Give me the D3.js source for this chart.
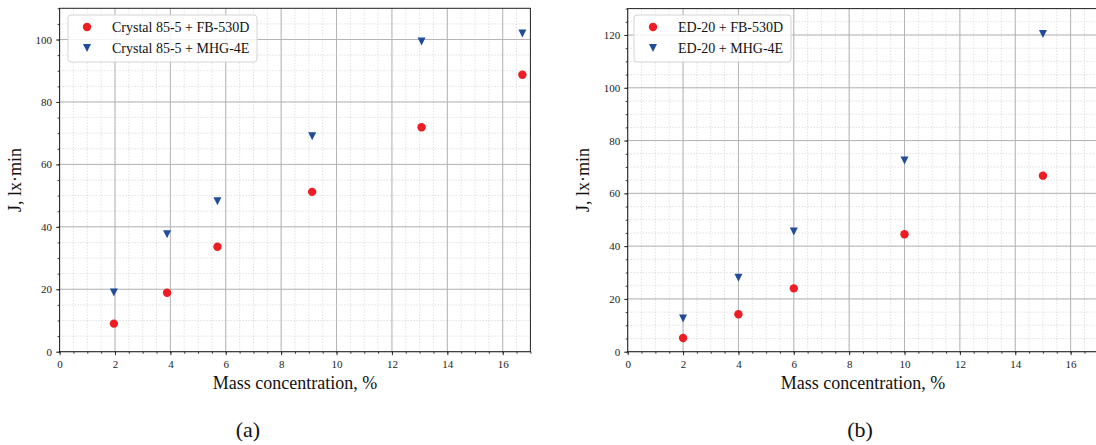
<!DOCTYPE html>
<html lang="en">
    <head>
        <meta charset="utf-8">
        <title>Mass concentration vs J</title>
        <script type="text/javascript" src="https://d3js.org/d3.v7.min.js"></script>
        <style>
            body { margin: 0; background: #fff; }
            svg { display: block; }
            svg text { font-family: "Liberation Serif", "Times New Roman", serif; }
        </style>
    </head>
    <body>
        <script>
            // panel (a)
            const seriesA = ["Crystal 85-5 + FB-530D", "Crystal 85-5 + MHG-4E"];
            const concA = [1.96, 3.88, 5.70, 9.12, 13.07, 16.71];
            const fbA = [9.0, 18.9, 33.6, 51.2, 71.9, 88.7];
            const mhgA = [19.0, 37.6, 48.2, 69.0, 99.4, 101.9];

            // panel (b)
            const seriesB = ["ED-20 + FB-530D", "ED-20 + MHG-4E"];
            const concB = [2, 4, 6, 10, 15];
            const fbB = [5.2, 14.2, 24.0, 44.5, 66.7];
            const mhgB = [12.6, 28.0, 45.5, 72.4, 120.4];

            const xTicks = [0, 2, 4, 6, 8, 10, 12, 14, 16];
            const yTicksA = [0, 20, 40, 60, 80, 100];
            const yTicksB = [0, 20, 40, 60, 80, 100, 120];

            const w = 1096;
            const h = 445;
            const red = "#ee1d23";
            const blue = "#224b9c";
            const serif = "'Liberation Serif', 'Times New Roman', serif";

            const svg = d3.select("body")
                        .append("svg")
                        .attr("width", w)
                        .attr("height", h);

            function tri(s) {
                return "M" + (-s) + "," + (-s) + "L" + s + "," + (-s) + "L0," + s + "Z";
            }

            function drawPanel(opt) {
                const xScale = d3.scaleLinear().domain([0, 17]).range([opt.x0, opt.x1]);
                const yScale = d3.scaleLinear().domain([0, opt.ymax]).range([351.7, opt.ytop]);
                const g = svg.append("g");

                const xMinor = d3.range(0, 17.01, 0.5);
                const yMinor = d3.range(0, opt.ymax + 0.01, 5);

                // minor grid, dotted
                g.selectAll(".gx-minor").data(xMinor).enter().append("line")
                    .attr("x1", d => xScale(d)).attr("x2", d => xScale(d))
                    .attr("y1", yScale(0)).attr("y2", yScale(opt.ymax))
                    .attr("stroke", "#c8c8c8").attr("stroke-width", 0.8)
                    .attr("stroke-dasharray", "1,2");
                g.selectAll(".gy-minor").data(yMinor).enter().append("line")
                    .attr("x1", xScale(0)).attr("x2", xScale(17))
                    .attr("y1", d => yScale(d)).attr("y2", d => yScale(d))
                    .attr("stroke", "#c8c8c8").attr("stroke-width", 0.8)
                    .attr("stroke-dasharray", "1,2");

                // major grid
                g.selectAll(".gx-major").data(xTicks).enter().append("line")
                    .attr("x1", d => xScale(d)).attr("x2", d => xScale(d))
                    .attr("y1", yScale(0)).attr("y2", yScale(opt.ymax))
                    .attr("stroke", "#b4b4b4").attr("stroke-width", 1);
                g.selectAll(".gy-major").data(opt.yTicks).enter().append("line")
                    .attr("x1", xScale(0)).attr("x2", xScale(17))
                    .attr("y1", d => yScale(d)).attr("y2", d => yScale(d))
                    .attr("stroke", "#b4b4b4").attr("stroke-width", 1);

                // axes: minor ticks first, then major with labels
                const xAxisMinor = d3.axisBottom(xScale).tickValues(xMinor).tickSize(2).tickFormat("");
                const yAxisMinor = d3.axisLeft(yScale).tickValues(yMinor).tickSize(2).tickFormat("");
                const xAxis = d3.axisBottom(xScale).tickValues(xTicks).tickSize(3.5).tickPadding(5);
                const yAxis = d3.axisLeft(yScale).tickValues(opt.yTicks).tickSize(3.5).tickPadding(4);

                [xAxisMinor, xAxis].forEach(a => {
                    g.append("g").attr("transform", "translate(0," + yScale(0) + ")").call(a);
                });
                [yAxisMinor, yAxis].forEach(a => {
                    g.append("g").attr("transform", "translate(" + xScale(0) + ",0)").call(a);
                });
                g.selectAll(".domain").remove();
                g.selectAll(".tick line").attr("stroke", "#222").attr("stroke-width", 0.9);
                g.selectAll(".tick text")
                    .style("font-family", serif)
                    .style("font-size", "11px")
                    .attr("fill", "#222");

                // frame
                g.append("rect")
                    .attr("x", xScale(0)).attr("y", yScale(opt.ymax))
                    .attr("width", xScale(17) - xScale(0))
                    .attr("height", yScale(0) - yScale(opt.ymax))
                    .attr("fill", "none").attr("stroke", "#222").attr("stroke-width", 1);

                // points
                g.selectAll(".fb").data(opt.conc).enter().append("circle")
                    .attr("cx", d => xScale(d))
                    .attr("cy", (d, i) => yScale(opt.fb[i]))
                    .attr("r", 4.2)
                    .attr("fill", red);
                g.selectAll(".mhg").data(opt.conc).enter().append("path")
                    .attr("d", tri(4))
                    .attr("transform", (d, i) => "translate(" + xScale(d) + "," + yScale(opt.mhg[i]) + ")")
                    .attr("fill", blue);

                // legend
                const lg = g.append("g").attr("transform", "translate(" + opt.legX + ",15)");
                lg.append("rect")
                    .attr("width", opt.legW).attr("height", 47)
                    .attr("rx", 3)
                    .attr("fill", "#fff").attr("fill-opacity", 0.85)
                    .attr("stroke", "#d4d4d4");
                lg.append("circle").attr("cx", 19).attr("cy", 12).attr("r", 4.2).attr("fill", red);
                lg.append("path").attr("d", tri(4))
                    .attr("transform", "translate(19,33)").attr("fill", blue);
                lg.selectAll(".lt").data(opt.names).enter().append("text")
                    .attr("x", 44)
                    .attr("y", (d, i) => 16.5 + i * 21)
                    .style("font-family", serif)
                    .style("font-size", "14px")
                    .attr("fill", "#111")
                    .text(d => d);

                // axis titles
                svg.append("text")
                    .attr("x", (opt.x0 + opt.x0 + 470.8) / 2)
                    .attr("y", 389)
                    .attr("text-anchor", "middle")
                    .style("font-family", serif)
                    .style("font-size", "18px")
                    .attr("fill", "#111")
                    .text("Mass concentration, %");
                svg.append("text")
                    .attr("transform", "translate(" + opt.yLabX + ",180) rotate(-90)")
                    .attr("text-anchor", "middle")
                    .style("font-family", serif)
                    .style("font-size", "18px")
                    .attr("fill", "#111")
                    .text("J, lx\u00B7min");

                svg.append("text")
                    .attr("x", opt.capX)
                    .attr("y", 437)
                    .attr("text-anchor", "middle")
                    .style("font-family", serif)
                    .style("font-size", "22px")
                    .attr("fill", "#111")
                    .text(opt.cap);
            }

            drawPanel({
                x0: 59.6, x1: 530.4, ymax: 110, ytop: 8.3, yTicks: yTicksA,
                conc: concA, fb: fbA, mhg: mhgA, names: seriesA,
                legX: 68, legW: 189, yLabX: 21, capX: 248, cap: "(a)"
            });
            drawPanel({
                x0: 627.7, x1: 1098.3, ymax: 130, ytop: 8.6, yTicks: yTicksB,
                conc: concB, fb: fbB, mhg: mhgB, names: seriesB,
                legX: 634, legW: 157, yLabX: 589, capX: 860, cap: "(b)"
            });
        </script>
    </body>
</html>
